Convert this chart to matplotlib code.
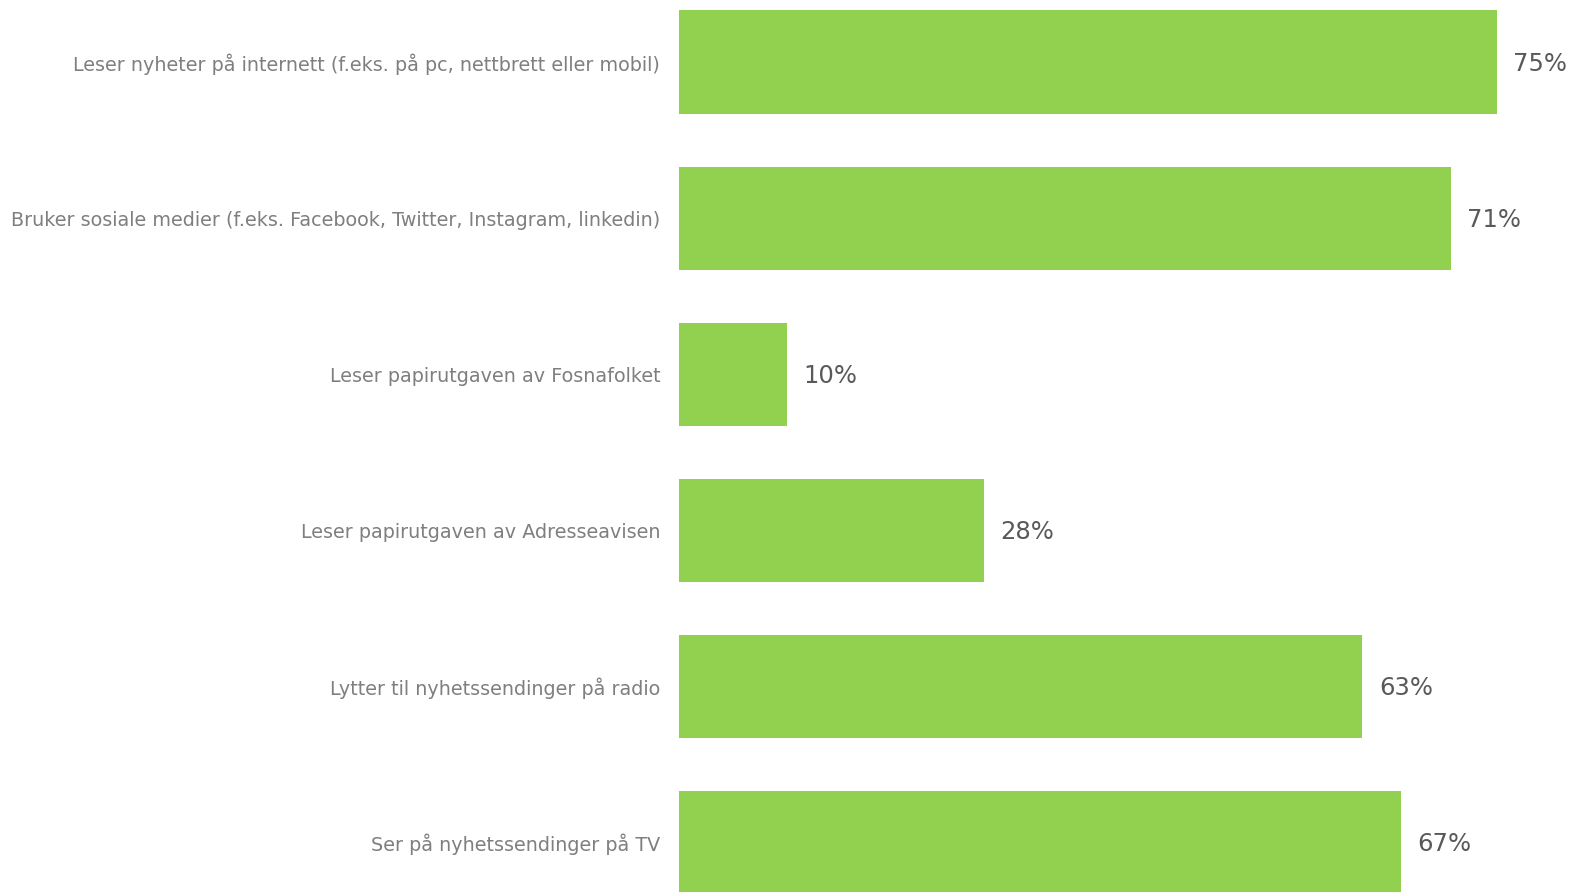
import matplotlib.pyplot as plt

categories = [
    "Leser nyheter på internett (f.eks. på pc, nettbrett eller mobil)",
    "Bruker sosiale medier (f.eks. Facebook, Twitter, Instagram, linkedin)",
    "Leser papirutgaven av Fosnafolket",
    "Leser papirutgaven av Adresseavisen",
    "Lytter til nyhetssendinger på radio",
    "Ser på nyhetssendinger på TV",
]
values = [75.0, 70.8, 9.9, 28.0, 62.7, 66.2]
value_labels = ["75%", "71%", "10%", "28%", "63%", "67%"]

fig = plt.figure(figsize=(15.73, 8.92), dpi=100)
ax = fig.add_axes([679 / 1573, 0, 1 - 679 / 1573, 1])

pos = list(range(len(categories)))
ax.barh(pos, values, height=0.662, color="#92d050")
ax.set_ylim(5.316, -0.398)
ax.set_xlim(0, (1573 - 679) / 10.9)

for p, v, lab in zip(pos, values, value_labels):
    ax.text(v + 1.5, p + 0.01, lab, va="center", ha="left", fontsize=17.5, color="#595959")

ax.set_yticks(pos)
ax.set_yticklabels(categories, fontsize=13.8, color="#7f7f7f")
ax.tick_params(axis="y", length=0, pad=13.5)
ax.set_xticks([])
for s in ax.spines.values():
    s.set_visible(False)

fig.savefig("out.png", dpi=100)
